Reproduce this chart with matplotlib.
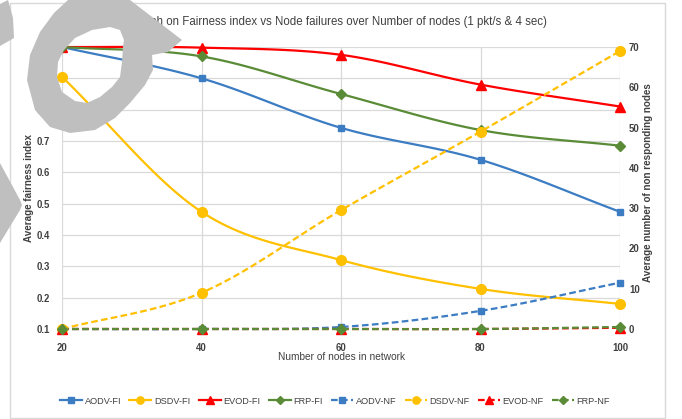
import numpy as np
import matplotlib
matplotlib.use("Agg")
import matplotlib.pyplot as plt
from matplotlib.path import Path
from matplotlib.patches import PathPatch, Rectangle, Polygon
from matplotlib.lines import Line2D

plt.rcParams['font.family'] = ['Liberation Sans', 'DejaVu Sans']

nodes = [20, 40, 60, 80, 100]
aodv_fi = [1.0, 0.90, 0.742, 0.64, 0.474]
dsdv_fi = [0.905, 0.474, 0.32, 0.228, 0.18]
evod_fi = [1.0, 0.998, 0.975, 0.88, 0.81]
frp_fi = [1.0, 0.97, 0.85, 0.735, 0.685]
aodv_nf = [0, 0, 0.5, 4.5, 11.5]
dsdv_nf = [0, 9, 29.5, 49, 69]
evod_nf = [0, 0, 0, 0, 0.3]
frp_nf = [0, 0, 0, 0, 0.5]
fi_ticks = [0.1, 0.2, 0.3, 0.4, 0.5, 0.6, 0.7, 0.8, 0.9, 1.0]
nf_ticks = [0, 10, 20, 30, 40, 50, 60, 70]

blue, yellow, red, green = '#3B7CC3', '#FFC000', '#FF0000', '#5A8B36'
txt = '#404040'

W, H = 682, 419
fig = plt.figure(figsize=(W / 100, H / 100), dpi=100)

def fx(x):
    return x / W

def fy(y):
    return 1 - y / H

ax = fig.add_axes([fx(62), fy(329), fx(620) - fx(62), fy(47) - fy(329)])
ax2 = ax.twinx()


def smooth(xs, ys, n=30):
    xs = np.asarray(xs, float)
    ys = np.asarray(ys, float)
    px = np.concatenate([[2 * xs[0] - xs[1]], xs, [2 * xs[-1] - xs[-2]]])
    py = np.concatenate([[2 * ys[0] - ys[1]], ys, [2 * ys[-1] - ys[-2]]])
    ox, oy = [], []
    for i in range(1, len(px) - 2):
        t = np.linspace(0, 1, n, endpoint=False)
        for arr, out in ((px, ox), (py, oy)):
            p0, p1, p2, p3 = arr[i - 1], arr[i], arr[i + 1], arr[i + 2]
            out.extend(0.5 * ((2 * p1) + (-p0 + p2) * t + (2 * p0 - 5 * p1 + 4 * p2 - p3) * t ** 2
                              + (-p0 + 3 * p1 - 3 * p2 + p3) * t ** 3))
    ox.append(xs[-1])
    oy.append(ys[-1])
    return np.array(ox), np.array(oy)

handles = []
series = [
    (ax, aodv_fi, blue, 's', '-', 'AODV-FI', 5),
    (ax, dsdv_fi, yellow, 'o', '-', 'DSDV-FI', 7),
    (ax, evod_fi, red, '^', '-', 'EVOD-FI', 7),
    (ax, frp_fi, green, 'D', '-', 'FRP-FI', 5.5),
    (ax2, aodv_nf, blue, 's', '--', 'AODV-NF', 5),
    (ax2, dsdv_nf, yellow, 'o', '--', 'DSDV-NF', 7),
    (ax2, evod_nf, red, '^', '--', 'EVOD-NF', 7),
    (ax2, frp_nf, green, 'D', '--', 'FRP-NF', 5.5),
]
for a, ys, c, m, ls, lab, ms in series:
    sx, sy = smooth(nodes, ys)
    if ls == '--':
        a.plot(sx, sy, color=c, lw=1.6, ls=(0, (3, 1.5)), clip_on=False, zorder=3)
    else:
        a.plot(sx, sy, color=c, lw=1.6, ls='-', clip_on=False, zorder=3)
    a.plot(nodes, ys, ls='none', marker=m, ms=ms, color=c, clip_on=False, zorder=4)
    handles.append(Line2D([], [], color=c, lw=1.6, ls=(0, (3, 1.5)) if ls == '--' else '-',
                          marker=m, ms=ms * 0.75, label=lab))

ax.set_xlim(20, 100)
ax.set_ylim(0.1, 1.0)
ax2.set_ylim(0, 70)
ax.set_xticks(nodes)
ax.set_yticks(fi_ticks)
ax.set_yticklabels([f'{v:.1f}' for v in fi_ticks])
ax2.set_yticks(nf_ticks)
for a in (ax, ax2):
    for s in a.spines.values():
        s.set_visible(False)
    a.tick_params(length=0, labelsize=6.9, colors=txt)
ax.tick_params(axis='x', pad=10)
ax.tick_params(axis='y', pad=8.5)
ax2.tick_params(axis='y', pad=6.5)
for lab in ax.get_xticklabels() + ax.get_yticklabels() + ax2.get_yticklabels():
    lab.set_fontweight('bold')
ax.grid(True, color='#D9D9D9', lw=0.9)
ax.set_axisbelow(True)

fig.text(fx(341), fy(357), 'Number of nodes in network', ha='center', va='center', fontsize=7.3, color=txt)
fig.text(fx(29), fy(188), 'Average fairness index', ha='center', va='center', rotation=90,
         fontsize=7.1, fontweight='bold', color=txt)
fig.text(fx(648), fy(183), 'Average number of non responding nodes', ha='center', va='center', rotation=90,
         fontsize=7.1, fontweight='bold', color=txt)

fig.text(fx(339), fy(22), 'Graph on Fairness index vs Node failures over Number of nodes (1 pkt/s & 4 sec)',
         ha='center', va='center', fontsize=8.3, color=txt)

fig.legend(handles=handles, loc='center', bbox_to_anchor=(fx(335), fy(401)), ncol=8, frameon=False,
           fontsize=6.6, handlelength=2.4, columnspacing=0.9, handletextpad=0.3, labelcolor=txt)

fig.add_artist(Rectangle((fx(10), fy(418)), fx(665) - fx(10), fy(3) - fy(418), transform=fig.transFigure,
                         fill=False, ec='#D9D9D9', lw=1))

# gray overlay shape (watermark-like)
gray = '#BFBFBF'
outer = [(68, 0), (130, 0), (182, 40), (168, 52), (152, 55), (153, 70), (145, 85), (130, 103),
         (115, 118), (95, 130), (70, 133), (50, 127), (35, 110), (27, 80), (30, 55), (40, 32), (54, 13)]
hole = [(57, 77), (58, 62), (64, 50), (75, 38), (92, 30), (110, 27), (120, 30), (124, 40), (123, 47),
        (122, 62), (120, 77), (112, 87), (100, 97), (87, 103), (75, 101), (62, 92)]


def tofig(pts):
    pts = np.array(pts, float)
    return np.column_stack([fx(pts[:, 0]), fy(pts[:, 1])])

ov = tofig(outer + [outer[0]])
hv = tofig(hole[::-1] + [hole[-1]])
verts = np.concatenate([ov, hv])
codes = ([Path.MOVETO] + [Path.LINETO] * (len(ov) - 2) + [Path.CLOSEPOLY] +
         [Path.MOVETO] + [Path.LINETO] * (len(hv) - 2) + [Path.CLOSEPOLY])
fig.add_artist(PathPatch(Path(verts, codes), transform=fig.transFigure, fc=gray, ec='none', zorder=10))


def poly(pts):
    fig.add_artist(Polygon(tofig(pts), closed=True, transform=fig.transFigure, fc=gray, ec='none', zorder=10))

poly([(0, 163), (20, 200), (22, 205), (20, 210), (0, 243)])
poly([(0, 4), (8, 0), (13, 18), (14, 38), (0, 46)])

fig.savefig('out.png', dpi=100)
